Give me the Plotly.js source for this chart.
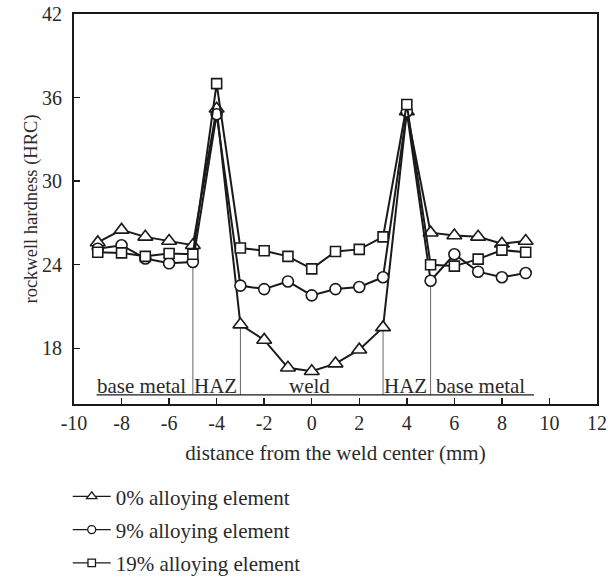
<!DOCTYPE html>
<html>
<head>
<meta charset="utf-8">
<script src="https://cdn.plot.ly/plotly-3.0.1.min.js"></script>
<style>html,body{margin:0;padding:0;background:#fff;}#chart{width:608px;height:580px;}</style>
</head>
<body>
<div id="chart"></div>
<script>
// distance from the weld center (mm)
const distance = [-9,-8,-7,-6,-5,-4,-3,-2,-1,0,1,2,3,4,5,6,7,8,9];
// rockwell hardness (HRC)
const alloy0  = [25.6,26.5,26.0,25.7,25.4,35.2,19.7,18.6,16.6,16.35,16.9,17.9,19.5,35.0,26.3,26.1,26.0,25.5,25.7];
const alloy9  = [25.15,25.4,24.45,24.1,24.2,34.8,22.5,22.25,22.8,21.8,22.25,22.4,23.1,35.0,22.85,24.75,23.5,23.1,23.4];
const alloy19 = [24.9,24.85,24.6,24.8,24.75,37.0,25.2,25.0,24.6,23.7,24.95,25.1,26.0,35.5,24.0,23.9,24.4,25.05,24.9];
const seriesNames = ["0% alloying element","9% alloying element","19% alloying element"];

// zone boundaries (mm) and the hardness value where each guide line starts
const boundaryX = [-5,-3,3,5];
const boundaryTop = [24.2,19.7,19.5,22.85];
const underlineX = [-9.05,9.35];
const underlineY = 14.65;
// zone labels
const zoneLabels = ["base metal","HAZ","weld","HAZ","base metal"];
const zoneCenters = [-7.15,-4.05,-0.1,3.95,7.1];
const zoneLabelY = 15.3;

const xTicks = [-10,-8,-6,-4,-2,0,2,4,6,8,10,12];
const yTicks = [18,24,30,36,42];

const serif = "Liberation Serif, Times New Roman, serif";
const ink = "#1a1a1a";
const txt = "#2a2a2a";

const traces = [];
// guide lines first (behind)
boundaryX.forEach((bx,i)=>{
  traces.push({x:[bx,bx], y:[boundaryTop[i], underlineY], mode:'lines',
    line:{color:'#666', width:1}, showlegend:false, hoverinfo:'skip'});
});
traces.push({x:underlineX, y:[underlineY,underlineY], mode:'lines',
  line:{color:ink, width:1.3}, showlegend:false, hoverinfo:'skip'});

const series = [alloy0, alloy9, alloy19];
const symbols = ['triangle-up','circle','square'];
const sizes = [13,11,10];
const legendSizes = [9,8,7.5];
series.forEach((ys,i)=>{
  traces.push({x:distance, y:ys, name:seriesNames[i], showlegend:false,
    mode:'lines+markers',
    line:{color:ink, width:2},
    marker:{symbol:symbols[i], size:sizes[i], color:'#fff', line:{color:ink, width:1.6}}
  });
});
// legend entries (no data drawn)
series.forEach((ys,i)=>{
  traces.push({x:[null], y:[null], name:seriesNames[i], legendgroup:'g'+i,
    mode:'lines+markers', line:{color:ink, width:1.3},
    marker:{symbol:symbols[i], size:legendSizes[i], color:'#fff', line:{color:ink, width:1.3}}});
});

const annotations = zoneLabels.map((t,i)=>({x:zoneCenters[i], y:zoneLabelY, xref:'x', yref:'y',
  text:t, showarrow:false, font:{family:serif, size:21, color:txt}}));

const layout = {
  width:608, height:580,
  margin:{l:74, r:11, t:14, b:176, autoexpand:false},
  paper_bgcolor:'#fff', plot_bgcolor:'#fff',
  font:{family:serif, color:ink, size:20},
  showlegend:true,
  legend:{x:-0.012, y:-0.185, xanchor:'left', yanchor:'top', bgcolor:'rgba(0,0,0,0)',
    font:{family:serif, size:21, color:txt}, tracegroupgap:3, itemwidth:38},
  xaxis:{range:[-10,12], tickvals:xTicks, ticktext:xTicks.map(String),
    ticks:'inside', ticklen:6, tickwidth:1.5, tickcolor:ink,
    showline:true, linecolor:ink, linewidth:2, mirror:true,
    showgrid:false, zeroline:false, ticklabelstandoff:0,
    tickfont:{family:serif, size:20, color:txt},
    title:{text:'distance from the weld center (mm)', font:{family:serif, size:21, color:txt}, standoff:12}},
  yaxis:{range:[14,42], tickvals:yTicks, ticktext:yTicks.map(String),
    ticks:'inside', ticklen:6, tickwidth:1.5, tickcolor:ink,
    showline:true, linecolor:ink, linewidth:2, mirror:true,
    showgrid:false, zeroline:false, ticklabelstandoff:6,
    tickfont:{family:serif, size:20, color:txt},
    title:{text:'rockwell hardness (HRC)', font:{family:serif, size:18.5, color:txt}, standoff:0}},
  annotations:annotations
};

Plotly.newPlot('chart', traces, layout, {displayModeBar:false, staticPlot:true});
</script>
</body>
</html>
